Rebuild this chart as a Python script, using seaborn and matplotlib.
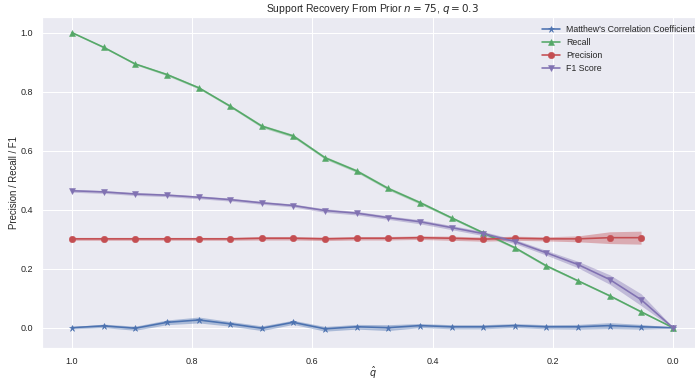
import numpy as np
import pandas as pd
import matplotlib
matplotlib.use("Agg")
import matplotlib.pyplot as plt
import seaborn as sns

# q_hat goes 1.0 -> 0.0 in 20 steps
q_hat = [1.000, 0.947, 0.895, 0.842, 0.789, 0.737, 0.684, 0.632, 0.579, 0.526,
         0.474, 0.421, 0.368, 0.316, 0.263, 0.211, 0.158, 0.105, 0.053, 0.000]

mcc = [0.000, 0.006, -0.002, 0.018, 0.026, 0.013, -0.002, 0.018, -0.004, 0.003,
       0.000, 0.007, 0.003, 0.003, 0.007, 0.003, 0.003, 0.007, 0.003, 0.000]
mcc_err = [0.004, 0.006, 0.007, 0.008, 0.010, 0.008, 0.008, 0.007, 0.008, 0.008,
           0.010, 0.007, 0.007, 0.007, 0.007, 0.007, 0.008, 0.010, 0.008, 0.002]

recall = [1.000, 0.950, 0.894, 0.858, 0.813, 0.751, 0.683, 0.650, 0.576, 0.531,
          0.472, 0.424, 0.372, 0.322, 0.271, 0.210, 0.159, 0.108, 0.054, 0.000]
recall_err = [0.002, 0.003, 0.003, 0.004, 0.004, 0.004, 0.005, 0.005, 0.005, 0.005,
              0.005, 0.005, 0.004, 0.004, 0.004, 0.004, 0.003, 0.003, 0.003, 0.001]

precision = [0.301, 0.301, 0.301, 0.301, 0.301, 0.301, 0.303, 0.303, 0.301, 0.303,
             0.303, 0.305, 0.303, 0.300, 0.303, 0.301, 0.301, 0.305, 0.305, np.nan]
precision_err = [0.005, 0.005, 0.005, 0.005, 0.005, 0.005, 0.006, 0.006, 0.006, 0.006,
                 0.006, 0.006, 0.007, 0.007, 0.007, 0.007, 0.010, 0.020, 0.022, np.nan]

f1 = [0.464, 0.460, 0.453, 0.449, 0.442, 0.434, 0.423, 0.414, 0.397, 0.388,
      0.373, 0.359, 0.339, 0.319, 0.292, 0.254, 0.214, 0.163, 0.095, 0.000]
f1_err = [0.005, 0.005, 0.005, 0.005, 0.005, 0.005, 0.005, 0.005, 0.006, 0.006,
          0.006, 0.007, 0.007, 0.007, 0.007, 0.008, 0.011, 0.016, 0.020, 0.002]

labels = ["Matthew's Correlation Coefficient", "Recall", "Precision", "F1 Score"]
colors = ["#4C72B0", "#55A868", "#C44E52", "#8172B2"]
markers = ["*", "^", "o", "v"]

sns.set_theme(style="darkgrid")
plt.rcParams["font.family"] = ["Liberation Sans", "DejaVu Sans"]
plt.rcParams["mathtext.fontset"] = "dejavusans"

fig = plt.figure(figsize=(695 / 72, 381 / 72), dpi=72)
ax = fig.add_axes([0.0604, 0.0866, 0.951, 0.8688])

series = [(mcc, mcc_err), (recall, recall_err), (precision, precision_err), (f1, f1_err)]
for (vals, err), lab, col, mk in zip(series, labels, colors, markers):
    vals = np.array(vals)
    err = np.array(err)
    ax.fill_between(q_hat, vals - err, vals + err, color=col, alpha=0.4, linewidth=0)
    sns.lineplot(x=q_hat, y=vals, ax=ax, color=col, marker=mk, label=lab,
                 linewidth=1.6, markersize=6.5, markeredgecolor=col, markeredgewidth=0.5)

ax.set_xlim(1.05, -0.05)
ax.set_ylim(-0.069, 1.053)
ax.tick_params(axis="both", labelsize=9, colors=".15")
ax.tick_params(axis="x", pad=3)
ax.tick_params(axis="y", pad=3)
ax.set_title(r"Support Recovery From Prior $n = 75$, $q = 0.3$", fontsize=10.4, pad=5)
ax.set_xlabel(r"$\hat{q}$", fontsize=9.6, labelpad=-1)
ax.set_ylabel("Precision / Recall / F1", fontsize=9.6, labelpad=1)
ax.legend(loc="upper right", frameon=False, fontsize=8.7, labelspacing=0.45)

fig.savefig("out.png", dpi=72)
